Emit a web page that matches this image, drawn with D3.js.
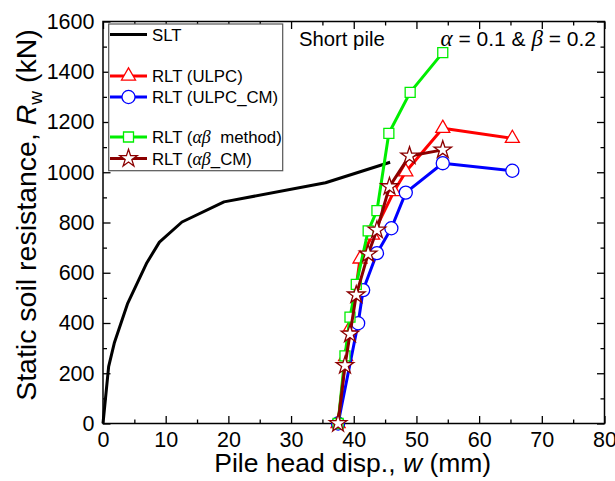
<!DOCTYPE html>
<html>
<head>
<meta charset="utf-8">
<script src="https://cdn.jsdelivr.net/npm/d3@7/dist/d3.min.js"></script>
<style>
    body { margin: 0; background: #fff; }
    svg { font-family: "Liberation Sans", Arial, sans-serif; }
</style>
</head>
<body>
<div id="chart"></div>
<script>
// 数据：桩头位移 w (mm) 与 静阻力 R (kN)
let sltW = [0, 0.9, 1.8, 3.9, 7.0, 9.0, 12.6, 19.3, 35.5, 45.8];
let sltR = [0, 226, 320, 476, 640, 722, 802, 882, 958, 1040];

let ulpcW = [37.5, 38.7, 39.5, 41.0, 43.0, 46.4, 48.3, 54.2, 65.3];
let ulpcR = [0, 266, 385, 655, 750, 923, 1002, 1175, 1135];

let ulpcCmW = [37.5, 40.7, 41.5, 43.7, 46.0, 48.3, 54.2, 65.3];
let ulpcCmR = [0, 399, 531, 678, 777, 919, 1036, 1006];

let abW = [37.5, 38.6, 39.4, 40.4, 42.3, 43.7, 45.6, 49.0, 54.2];
let abR = [0, 269, 423, 554, 767, 847, 1155, 1318, 1476];

let abCmW = [37.5, 38.6, 39.4, 40.4, 42.3, 43.7, 45.7, 48.9, 54.2];
let abCmR = [0, 231, 356, 512, 675, 770, 943, 1065, 1089];

let xTicks = [0, 10, 20, 30, 40, 50, 60, 70, 80];
let xMinor = [5, 15, 25, 35, 45, 55, 65, 75];
let yTicks = [0, 200, 400, 600, 800, 1000, 1200, 1400, 1600];
let yMinor = [100, 300, 500, 700, 900, 1100, 1300, 1500];

let zip = function (ws, rs) {
    return ws.map(function (w, i) { return [w, rs[i]]; });
};

let series = [
    {name: 'SLT', data: zip(sltW, sltR), color: '#000000', symbol: null, size: 0},
    {name: 'ULPC', data: zip(ulpcW, ulpcR), color: '#ff0000', symbol: d3.symbolTriangle, size: 85},
    {name: 'ULPC_CM', data: zip(ulpcCmW, ulpcCmR), color: '#0000ff', symbol: d3.symbolCircle, size: 135},
    {name: 'ab', data: zip(abW, abR), color: '#00ee00', symbol: d3.symbolSquare, size: 100},
    {name: 'abCM', data: zip(abCmW, abCmR), color: '#8b0000', symbol: d3.symbolStar, size: 95}
];

//画布
let svg = d3.select('#chart').append('svg')
    .attr('width', 615)
    .attr('height', 481);

let gLeft = 103, gRight = 604.5, gTop = 21.5, gBottom = 423.5;

let xScale = d3.scaleLinear().domain([0, 80]).range([gLeft, gRight]);
let yScale = d3.scaleLinear().domain([0, 1600]).range([gBottom, gTop]);

//坐标轴，刻度朝内
let tickFont = '21.5px';
let styleAxis = function (g) {
    g.selectAll('.tick line').attr('stroke', '#000').attr('stroke-width', 1.3);
    g.selectAll('text').attr('fill', '#000').style('font-size', tickFont)
        .style('font-family', '"Liberation Sans", Arial, sans-serif');
    g.select('.domain').remove();
};

svg.append('g').attr('transform', 'translate(0,' + gBottom + ')')
    .call(d3.axisBottom(xScale).tickValues(xTicks).tickSize(-7.5).tickPadding(8.5).tickFormat(d3.format('d')))
    .call(styleAxis);
svg.append('g').attr('transform', 'translate(0,' + gBottom + ')')
    .call(d3.axisBottom(xScale).tickValues(xMinor).tickSize(-4).tickFormat(''))
    .call(styleAxis);
svg.append('g').attr('transform', 'translate(0,' + gTop + ')')
    .call(d3.axisTop(xScale).tickValues(xTicks).tickSize(-7.5).tickFormat(''))
    .call(styleAxis);
svg.append('g').attr('transform', 'translate(0,' + gTop + ')')
    .call(d3.axisTop(xScale).tickValues(xMinor).tickSize(-4).tickFormat(''))
    .call(styleAxis);

svg.append('g').attr('transform', 'translate(' + gLeft + ',0)')
    .call(d3.axisLeft(yScale).tickValues(yTicks).tickSize(-7.5).tickPadding(8.5).tickFormat(d3.format('d')))
    .call(styleAxis);
svg.append('g').attr('transform', 'translate(' + gLeft + ',0)')
    .call(d3.axisLeft(yScale).tickValues(yMinor).tickSize(-4).tickFormat(''))
    .call(styleAxis);
svg.append('g').attr('transform', 'translate(' + gRight + ',0)')
    .call(d3.axisRight(yScale).tickValues(yTicks).tickSize(-7.5).tickFormat(''))
    .call(styleAxis);
svg.append('g').attr('transform', 'translate(' + gRight + ',0)')
    .call(d3.axisRight(yScale).tickValues(yMinor).tickSize(-4).tickFormat(''))
    .call(styleAxis);

//边框
svg.append('rect')
    .attr('x', gLeft).attr('y', gTop)
    .attr('width', gRight - gLeft).attr('height', gBottom - gTop)
    .attr('fill', 'none').attr('stroke', '#000').attr('stroke-width', 1.5);

//曲线和符号
let line = d3.line()
    .x(function (d) { return xScale(d[0]); })
    .y(function (d) { return yScale(d[1]); });

series.forEach(function (s) {
    let g = svg.append('g');
    g.append('path')
        .attr('d', line(s.data))
        .attr('fill', 'none')
        .attr('stroke', s.color)
        .attr('stroke-width', 3)
        .attr('stroke-linejoin', 'round');
    if (s.symbol) {
        let sym = d3.symbol().type(s.symbol).size(s.size);
        g.selectAll('path.pt')
            .data(s.data)
            .enter()
            .append('path')
            .attr('class', 'pt')
            .attr('d', sym)
            .attr('transform', function (d) {
                return 'translate(' + xScale(d[0]) + ',' + yScale(d[1]) + ')';
            })
            .attr('fill', '#fff')
            .attr('stroke', s.color)
            .attr('stroke-width', 1.3);
    }
});

//图例
let legend = svg.append('g');
legend.append('rect')
    .attr('x', 108.7).attr('y', 24)
    .attr('width', 174).attr('height', 146.7)
    .attr('fill', '#fff')
    .attr('stroke', '#555')
    .attr('stroke-width', 1.2);

let legendRows = [
    {s: series[0], y: 34.5, label: [['SLT', false]]},
    {s: series[1], y: 76, label: [['RLT (ULPC)', false]]},
    {s: series[2], y: 97, label: [['RLT (ULPC_CM)', false]]},
    {s: series[3], y: 137, label: [['RLT (', false], ['\u03b1\u03b2', true], ['  method)', false]]},
    {s: series[4], y: 158.5, label: [['RLT (', false], ['\u03b1\u03b2', true], ['_CM)', false]]}
];

legendRows.forEach(function (row) {
    legend.append('line')
        .attr('x1', 110).attr('x2', 147)
        .attr('y1', row.y).attr('y2', row.y)
        .attr('stroke', row.s.color)
        .attr('stroke-width', 3);
    if (row.s.symbol) {
        legend.append('path')
            .attr('d', d3.symbol().type(row.s.symbol).size(row.s.size))
            .attr('transform', 'translate(128.5,' + row.y + ')')
            .attr('fill', '#fff')
            .attr('stroke', row.s.color)
            .attr('stroke-width', 1.3);
    }
    let t = legend.append('text')
        .attr('x', 152).attr('y', row.y)
        .attr('dy', '0.36em')
        .style('font-size', '16.8px')
        .style('white-space', 'pre');
    row.label.forEach(function (p) {
        let ts = t.append('tspan').text(p[0]);
        if (p[1]) {
            ts.style('font-family', '"Liberation Serif", "Times New Roman", serif')
                .style('font-style', 'italic')
                .style('font-size', '18px');
        }
    });
});

//注释文字
svg.append('text')
    .attr('x', 299).attr('y', 45.5)
    .style('font-size', '20.3px')
    .text('Short pile');

let para = svg.append('text')
    .attr('x', 596).attr('y', 45.5)
    .attr('text-anchor', 'end')
    .style('font-size', '21px')
    .style('white-space', 'pre');
para.append('tspan').text('\u03b1')
    .style('font-family', '"Liberation Serif", "Times New Roman", serif')
    .style('font-style', 'italic').style('font-size', '23px');
para.append('tspan').text(' = 0.1 & ');
para.append('tspan').text('\u03b2')
    .style('font-family', '"Liberation Serif", "Times New Roman", serif')
    .style('font-style', 'italic').style('font-size', '23px');
para.append('tspan').text(' = 0.2');

//轴标题
let xt = svg.append('text')
    .attr('x', (gLeft + gRight) / 2 - 1).attr('y', 472)
    .attr('text-anchor', 'middle')
    .style('font-size', '26.5px');
xt.append('tspan').text('Pile head disp., ');
xt.append('tspan').text('w').style('font-style', 'italic');
xt.append('tspan').text(' (mm)');

let yt = svg.append('text')
    .attr('transform', 'translate(36,215) rotate(-90)')
    .attr('text-anchor', 'middle')
    .style('font-size', '28.5px');
yt.append('tspan').text('Static soil resistance, ');
yt.append('tspan').text('R').style('font-style', 'italic');
yt.append('tspan').text('w').attr('dy', 6).style('font-size', '19px');
yt.append('tspan').text(' (kN)').attr('dy', -6);
</script>
</body>
</html>
